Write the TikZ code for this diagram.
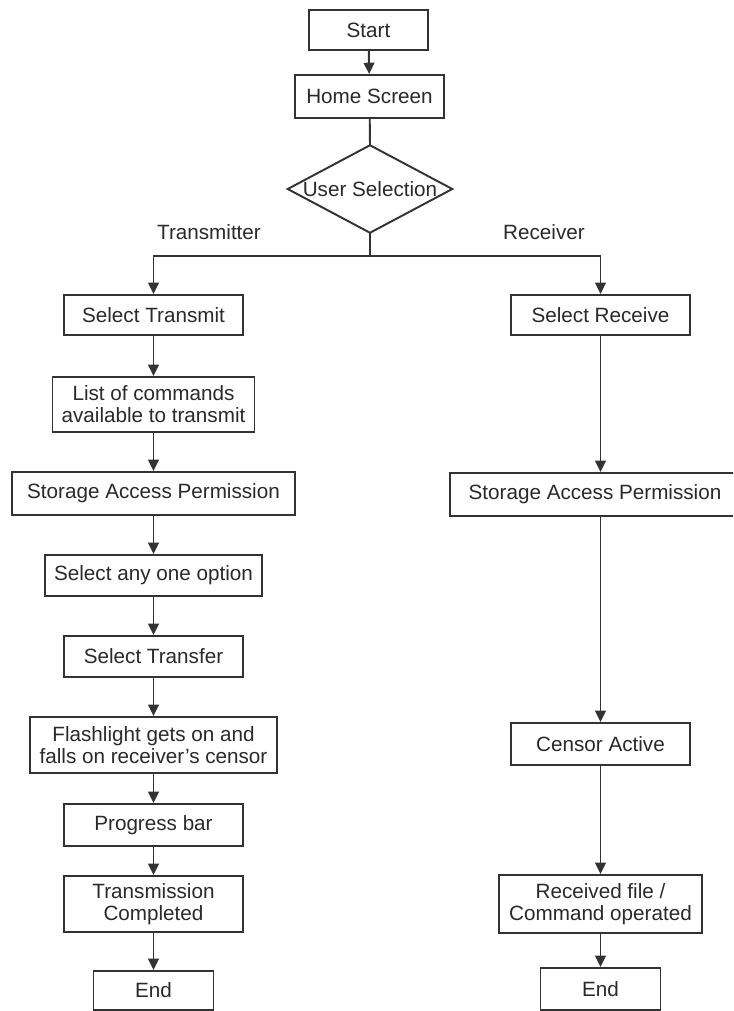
\documentclass[tikz,border=0pt]{standalone}
\usepackage{fontspec}
\setmainfont{Liberation Sans}
\usetikzlibrary{arrows.meta}
\definecolor{ln}{HTML}{333333}
\definecolor{tx}{HTML}{2A2A2A}
\begin{document}
\begin{tikzpicture}[x=0.75pt,y=-0.75pt,
  box/.style={draw=ln,line width=1.45pt,fill=white,inner sep=0pt,align=center,text=tx,
    font=\fontsize{15.5pt}{16.5pt}\selectfont},
  lbl/.style={inner sep=0pt,text=tx,font=\fontsize{15.5pt}{16.5pt}\selectfont},
  conn/.style={draw=ln,line width=1.45pt},
  arr/.style={conn,-{Triangle[length=8.5pt,width=8pt]}}]
\clip (0,0) rectangle (733,1011);
\fill[white] (0,0) rectangle (733,1011);
% main column
\node[box,minimum width=89.25pt,minimum height=30pt] (start) at (368.5,30) {Start};
\node[box,minimum width=111.75pt,minimum height=32.25pt] (home) at (369.5,96.5) {Home Screen};
\node[inner sep=0pt,minimum width=123pt,minimum height=65.25pt] (sel) at (370,189) {};
\draw[conn,fill=white,line join=miter] (sel.north) -- (sel.east) -- (sel.south) -- (sel.west) -- cycle;
\node[lbl] (seltxt) at (sel.center) {User Selection};
\node[lbl] (tlbl) at (209,232) {Transmitter};
\node[lbl] (rlbl) at (544,232) {Receiver};
\coordinate (br) at (370,256);
% transmitter column
\node[box,minimum width=134.25pt,minimum height=30pt] (selT) at (153.5,315) {Select Transmit};
\node[box,minimum width=151.5pt,minimum height=41.25pt] (list) at (153.5,404.5) {List of commands\\available to transmit};
\node[box,minimum width=212.25pt,minimum height=32.25pt] (sapL) at (153.5,493.5) {Storage Access Permission};
\node[box,minimum width=162.75pt,minimum height=30.75pt] (any) at (153.5,575.5) {Select any one option};
\node[box,minimum width=134.25pt,minimum height=30.75pt] (trf) at (153.5,656.5) {Select Transfer};
\node[box,minimum width=185.25pt,minimum height=42pt] (flash) at (153.5,745) {Flashlight gets on and\\falls on receiver\symbol{"0027}s censor};
\node[box,minimum width=134.25pt,minimum height=31.5pt] (prog) at (153.5,825) {Progress bar};
\node[box,minimum width=134.25pt,minimum height=42pt] (done) at (153.5,904) {Transmission\\Completed};
\node[box,minimum width=90pt,minimum height=29.25pt] (endL) at (153.5,990.5) {End};
% receiver column
\node[box,minimum width=134.25pt,minimum height=30pt] (selR) at (600.5,315) {Select Receive};
\node[box,minimum width=217.5pt,minimum height=32.25pt] (sapR) at (595,494.5) {Storage Access Permission};
\node[box,minimum width=134.25pt,minimum height=31.5pt] (cens) at (600.5,744) {Censor Active};
\node[box,minimum width=152.25pt,minimum height=43.5pt] (recv) at (600.5,904) {Received file /\\Command operated};
\node[box,minimum width=90pt,minimum height=31.5pt] (endR) at (600.5,989) {End};
% connectors
\draw[arr] (start) -- (home);
\draw[conn] (home) -- (sel.north);
\draw[conn] (sel.south) -- (br);
\draw[arr] (br) -| (selT.north);
\draw[arr] (br) -| (selR.north);
\draw[arr] (selT) -- (list);
\draw[arr] (list) -- (sapL);
\draw[arr] (sapL) -- (any);
\draw[arr] (any) -- (trf);
\draw[arr] (trf) -- (flash);
\draw[arr] (flash) -- (prog);
\draw[arr] (prog) -- (done);
\draw[arr] (done) -- (endL);
\draw[arr] (selR.south) -- (selR.south |- sapR.north);
\draw[arr] (selR.south |- sapR.south) -- (cens.north);
\draw[arr] (cens) -- (recv);
\draw[arr] (recv) -- (endR);
\end{tikzpicture}
\end{document}
